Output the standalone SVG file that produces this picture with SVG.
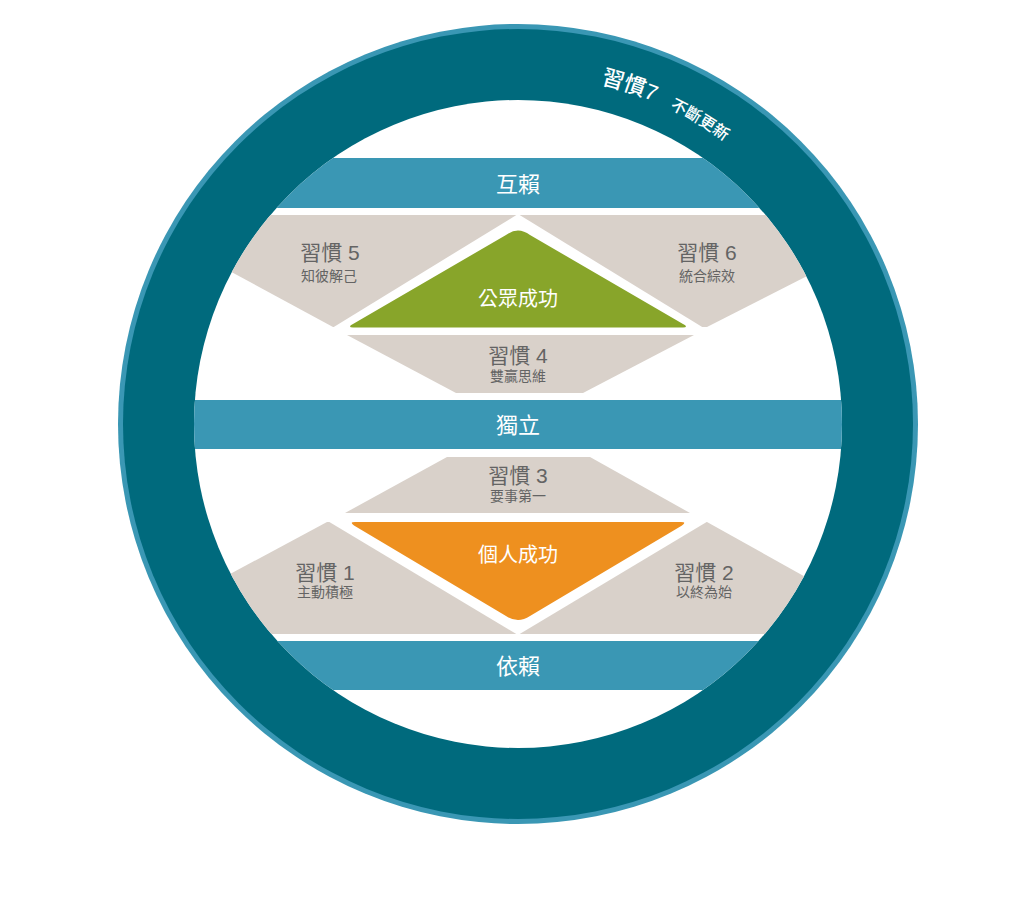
<svg xmlns="http://www.w3.org/2000/svg" width="1024" height="912" viewBox="0 0 1024 912">
<style>
.bar{fill:#3a97b4}
.grey{fill:#d9d1ca}
.wht{fill:#ffffff}
.bt{font-family:"Liberation Sans","Noto Sans CJK TC",sans-serif;font-size:22px;fill:#ffffff;text-anchor:middle}
.ct{font-family:"Liberation Sans","Noto Sans CJK TC",sans-serif;font-size:20px;fill:#ffffff;text-anchor:middle}
.ht{font-family:"Liberation Sans","Noto Sans CJK TC",sans-serif;font-size:21px;fill:#646464;text-anchor:middle}
.hs{font-family:"Liberation Sans","Noto Sans CJK TC",sans-serif;font-size:14px;fill:#646464;text-anchor:middle}
.at{font-family:"Liberation Sans","Noto Sans CJK TC",sans-serif;fill:#ffffff}
</style>
<defs>
<clipPath id="inner"><circle cx="518" cy="424" r="324"/></clipPath>
<path id="arc" d="M 518 74 A 350 350 0 1 1 518 774 A 350 350 0 1 1 518 74"/>
</defs>
<rect width="1024" height="912" fill="#ffffff"/>
<g id="ring">
<circle cx="518" cy="424" r="400" fill="#3a97b4"/>
<circle cx="518" cy="424" r="395" fill="#006a7d"/>
<circle cx="518" cy="424" r="324" fill="#ffffff"/>
</g>
<g clip-path="url(#inner)">
<g id="bar-interdependence"><rect class="bar" x="150" y="158" width="740" height="50"/></g>
<g id="bar-independence"><rect class="bar" x="150" y="400" width="740" height="49"/></g>
<g id="bar-dependence"><rect class="bar" x="150" y="641" width="740" height="49"/></g>
<g id="habits-5-6-shape">
<path class="grey" d="M 150 215 L 886 215 L 886 236 L 707 327 L 333 327 L 150 228 Z"/>
<path class="wht" d="M 518 214 L 712 333 L 324 333 Z"/>
</g>
<g id="habit4-shape"><path class="grey" d="M 347 335 L 694 335 L 583 393 L 456 393 Z"/></g>
<g id="habit3-shape"><path class="grey" d="M 447 457 L 590 457 L 690 513 L 345 513 Z"/></g>
<g id="habits-1-2-shape">
<path class="grey" d="M 150 617 L 327 522 L 707 522 L 886 622 L 886 634 L 150 634 Z"/>
<path class="wht" d="M 316 514 L 720 514 L 518 635 Z"/>
</g>
</g>
<g id="public-victory">
<path fill="#88a52a" d="M 506 235 Q 518 226 530 235 L 683 324 Q 689 327 683 327.5 L 353 327.5 Q 347 327 353 324 Z"/>
<text class="ct" x="518" y="306">公眾成功</text>
</g>
<g id="private-victory">
<path fill="#ee901f" d="M 355 522 L 681 522 Q 687 522 682 525.5 L 530 616 Q 518 624 506 616 L 354 525.5 Q 349 522 355 522 Z"/>
<text class="ct" x="518" y="562">個人成功</text>
</g>
<g id="label-interdependence"><text class="bt" x="518" y="192">互賴</text></g>
<g id="label-independence"><text class="bt" x="518" y="433">獨立</text></g>
<g id="label-dependence"><text class="bt" x="518" y="674">依賴</text></g>
<g id="habit5"><text class="ht" x="330" y="260">習慣 5</text><text class="hs" x="329" y="281">知彼解己</text></g>
<g id="habit6"><text class="ht" x="707" y="260">習慣 6</text><text class="hs" x="707" y="281">統合綜效</text></g>
<g id="habit4"><text class="ht" x="518" y="363">習慣 4</text><text class="hs" x="518" y="381">雙贏思維</text></g>
<g id="habit3"><text class="ht" x="518" y="483">習慣 3</text><text class="hs" x="518" y="501">要事第一</text></g>
<g id="habit1"><text class="ht" x="325" y="580">習慣 1</text><text class="hs" x="325" y="597">主動積極</text></g>
<g id="habit2"><text class="ht" x="704" y="580">習慣 2</text><text class="hs" x="704" y="597">以終為始</text></g>
<g id="habit7">
<text class="at" font-size="22" font-weight="500"><textPath href="#arc" startOffset="83.5">習慣7</textPath></text>
<text class="at" font-size="16" font-weight="500"><textPath href="#arc" startOffset="156.5">不斷更新</textPath></text>
</g>
</svg>
